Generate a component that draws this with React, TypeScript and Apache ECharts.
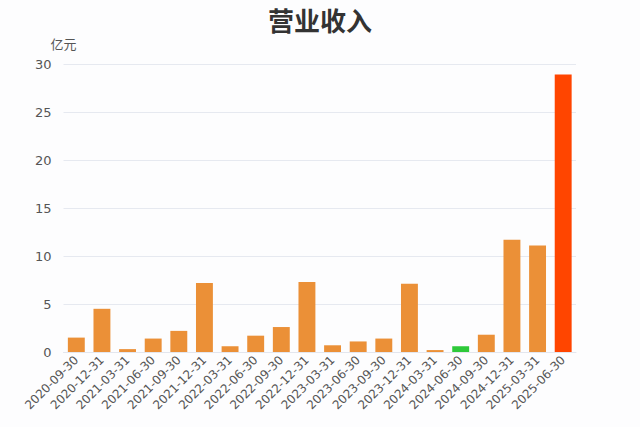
import React, { useEffect, useRef } from 'react';
import * as echarts from 'echarts';

const categories = [
    '2020-09-30', '2020-12-31', '2021-03-31', '2021-06-30', '2021-09-30',
    '2021-12-31', '2022-03-31', '2022-06-30', '2022-09-30', '2022-12-31',
    '2023-03-31', '2023-06-30', '2023-09-30', '2023-12-31', '2024-03-31',
    '2024-06-30', '2024-09-30', '2024-12-31', '2025-03-31', '2025-06-30',
];

// 营业收入（亿元）
const revenue = [
    1.5, 4.5, 0.3, 1.4, 2.2,
    7.2, 0.6, 1.7, 2.6, 7.3,
    0.7, 1.1, 1.4, 7.1, 0.2,
    0.6, 1.8, 11.7, 11.1, 28.9,
];

const highlightGreen = '2024-06-30';
const highlightRed = '2025-06-30';

const barColor = (date: string): string => {
    if (date === highlightRed) return '#ff4500';
    if (date === highlightGreen) return '#2ec93a';
    return '#eb9037';
};

const App: React.FC = () => {
    const chartRef = useRef<HTMLDivElement>(null);

    useEffect(() => {
        if (!chartRef.current) return;
        const chart = echarts.init(chartRef.current, undefined, { renderer: 'svg' });

        chart.setOption({
            animation: false,
            backgroundColor: '#fdfdfe',
            title: {
                text: '营业收入',
                left: 'center',
                top: 1,
                textStyle: {
                    fontSize: 26,
                    fontWeight: 'bold',
                    color: '#333',
                    fontFamily: 'Noto Sans CJK SC',
                },
            },
            grid: { left: 63.5, right: 64, top: 64, bottom: 75 },
            xAxis: {
                type: 'category',
                data: categories,
                axisTick: { show: false },
                axisLine: { lineStyle: { color: '#e3e6ee' } },
                axisLabel: {
                    rotate: 45,
                    interval: 0,
                    color: '#555',
                    fontSize: 12,
                    fontFamily: 'DejaVu Sans',
                    margin: 6,
                },
            },
            yAxis: {
                type: 'value',
                min: 0,
                max: 30,
                interval: 5,
                name: '亿元',
                nameGap: 14,
                nameTextStyle: {
                    color: '#555',
                    fontSize: 13,
                    fontFamily: 'Noto Sans CJK SC',
                    align: 'center',
                },
                axisLine: { show: false },
                axisTick: { show: false },
                axisLabel: {
                    color: '#555',
                    fontSize: 13,
                    fontFamily: 'DejaVu Sans',
                    margin: 12,
                },
                splitLine: { lineStyle: { color: '#e6e9f0' } },
            },
            series: [
                {
                    type: 'bar',
                    barWidth: '66%',
                    data: categories.map((date, i) => ({
                        value: revenue[i],
                        itemStyle: { color: barColor(date) },
                    })),
                },
            ],
        });

        return () => chart.dispose();
    }, []);

    return (
        <div
            ref={chartRef}
            style={{ position: 'fixed', left: 0, top: 0, width: 640, height: 427 }}
        />
    );
};

export default App;
